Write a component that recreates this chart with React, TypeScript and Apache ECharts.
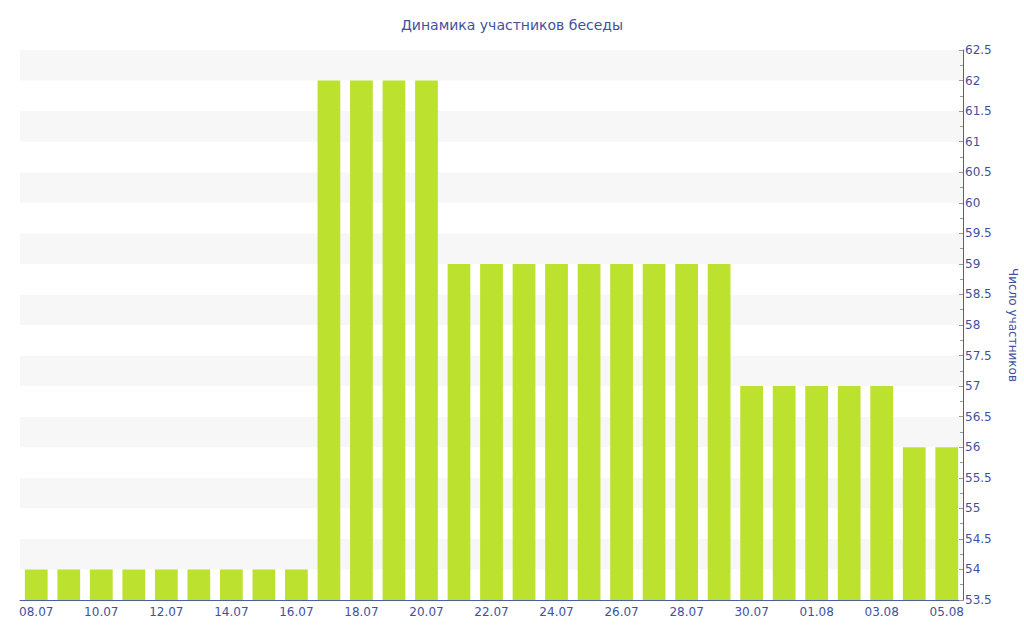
import React, { useEffect, useRef } from "react";
import * as echarts from "echarts";

const categories = [
  "08.07", "09.07", "10.07", "11.07", "12.07", "13.07", "14.07", "15.07", "16.07",
  "17.07", "18.07", "19.07", "20.07",
  "21.07", "22.07", "23.07", "24.07", "25.07", "26.07", "27.07", "28.07", "29.07",
  "30.07", "31.07", "01.08", "02.08", "03.08",
  "04.08", "05.08",
];
const members = [
  54, 54, 54, 54, 54, 54, 54, 54, 54,
  62, 62, 62, 62,
  59, 59, 59, 59, 59, 59, 59, 59, 59,
  57, 57, 57, 57, 57,
  56, 56,
];

const textColor = "#3f519e";
const axisColor = "#4a5ea8";
const font = "'DejaVu Sans', Verdana, sans-serif";

export default function App() {
  const ref = useRef<HTMLDivElement>(null);
  useEffect(() => {
    if (!ref.current) return;
    const chart = echarts.init(ref.current, undefined, { renderer: "svg" });
    chart.setOption({
      animation: false,
      title: {
        text: "Динамика участников беседы",
        left: "center",
        top: 13,
        textStyle: { color: textColor, fontSize: 14, fontWeight: "normal", fontFamily: font },
      },
      grid: { left: 20, right: 61, top: 50, bottom: 40, outerBoundsMode: "none", containLabel: false },
      xAxis: {
        type: "category",
        data: categories,
        axisLine: { lineStyle: { color: axisColor } },
        axisTick: { alignWithLabel: true, interval: 1, length: 4, lineStyle: { color: "#999" } },
        axisLabel: { interval: 1, color: textColor, fontSize: 12, fontFamily: font, margin: 6 },
        splitLine: { show: false },
      },
      yAxis: {
        type: "value",
        position: "right",
        min: 53.5,
        max: 62.5,
        interval: 0.5,
        name: "Число участников",
        nameLocation: "middle",
        nameRotate: -90,
        nameGap: 44,
        nameTextStyle: { color: textColor, fontSize: 12, fontFamily: font },
        axisLine: { show: true, lineStyle: { color: axisColor } },
        axisTick: { show: true, inside: true, length: 4, lineStyle: { color: "#999" } },
        minorTick: { show: true, splitNumber: 2, length: 3, lineStyle: { color: "#999" } },
        axisLabel: { color: textColor, fontSize: 12, fontFamily: font, margin: 2 },
        splitLine: { show: false },
        splitArea: { show: true, areaStyle: { color: ["#ffffff", "#f7f7f7"] } },
      },
      series: [
        {
          type: "bar",
          data: members,
          barCategoryGap: "30%",
          itemStyle: { color: "#bde12f" },
        },
      ],
    });
    return () => chart.dispose();
  }, []);
  return <div ref={ref} style={{ width: 1024, height: 640, position: "absolute", left: 0, top: 0 }} />;
}
